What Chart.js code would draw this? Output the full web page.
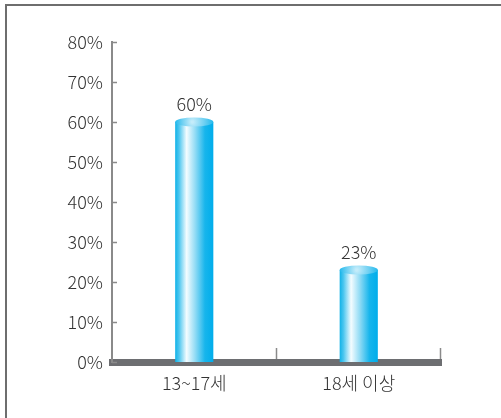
<!DOCTYPE html>
<html lang="ko">
<head>
    <meta charset="UTF-8">
    <title>연령별 비율</title>
    <script src="https://cdn.jsdelivr.net/npm/chart.js"></script>
    <style>
        body {
            margin: 0;
            background: #fff;
        }

        #wrap {
            position: relative;
            width: 501px;
            height: 418px;
        }

        #frame {
            position: absolute;
            left: 5px;
            top: 4px;
            right: 0;
            bottom: 0;
            border-top: 2px solid #6e6e6e;
            border-left: 2px solid #6e6e6e;
        }

        canvas {
            position: absolute;
            left: 0;
            top: 0;
        }
    </style>
</head>
<body>
    <div id="wrap">
        <div id="frame"></div>
        <canvas id="ageChart" width="501" height="418"></canvas>
    </div>

    <script>
        const categories = ['13~17세', '18세 이상'];
        const shares = [60, 23];
        const yMax = 80;
        const yStep = 10;

        const FONT = "'Noto Sans CJK KR', 'Noto Sans', sans-serif";
        const WEIGHT = 300;
        const SIZE = 18;
        const BAR_PCT = 0.232;

        // цилиндр: горизонтальный градиент по ширине столбика
        function barFill(ctx) {
            const chart = ctx.chart;
            const x = chart.scales.x;
            if (!x || !chart.chartArea) return '#1ab5ea';
            const cx = x.getPixelForValue(ctx.dataIndex);
            const half = (x.width / categories.length) * BAR_PCT / 2;
            const g = chart.ctx.createLinearGradient(cx - half, 0, cx + half, 0);
            g.addColorStop(0, '#10b2e8');
            g.addColorStop(0.1, '#4cc6ef');
            g.addColorStop(0.3, '#f4fcff');
            g.addColorStop(0.52, '#94dcf5');
            g.addColorStop(0.78, '#17b5ec');
            g.addColorStop(1, '#00adeb');
            return g;
        }

        // крышка цилиндра, подписи значений и короткие риски осей
        const extras = {
            id: 'extras',
            afterDatasetsDraw(chart) {
                const c = chart.ctx;
                const meta = chart.getDatasetMeta(0);
                meta.data.forEach((bar, i) => {
                    const rx = bar.width / 2;
                    const ry = 4.5;
                    c.save();
                    const rg = c.createRadialGradient(bar.x - 2, bar.y, 1, bar.x, bar.y, rx);
                    rg.addColorStop(0, '#c4ecfa');
                    rg.addColorStop(0.55, '#6fd0f2');
                    rg.addColorStop(1, '#22b9ed');
                    c.fillStyle = rg;
                    c.beginPath();
                    c.ellipse(bar.x, bar.y, rx, ry, 0, 0, Math.PI * 2);
                    c.fill();

                    c.fillStyle = '#333';
                    c.font = WEIGHT + ' ' + SIZE + 'px ' + FONT;
                    c.textAlign = 'center';
                    c.textBaseline = 'alphabetic';
                    c.fillText(shares[i] + '%', bar.x, bar.y - 11);
                    c.restore();
                });

                const y = chart.scales.y;
                const x = chart.scales.x;
                c.save();
                c.strokeStyle = '#8a8a8a';
                c.lineWidth = 1.5;
                y.ticks.forEach(t => {
                    const py = Math.round(y.getPixelForValue(t.value)) + 0.5;
                    c.beginPath();
                    c.moveTo(x.left, py);
                    c.lineTo(x.left + 5, py);
                    c.stroke();
                });
                const step = x.width / categories.length;
                for (let i = 1; i <= categories.length; i++) {
                    const px = Math.round(x.left + step * i) - 0.5;
                    c.beginPath();
                    c.moveTo(px, x.top - 3);
                    c.lineTo(px, x.top - 14);
                    c.stroke();
                }
                c.restore();
            }
        };

        new Chart(document.getElementById('ageChart'), {
            type: 'bar',
            data: {
                labels: categories,
                datasets: [{
                    data: shares,
                    backgroundColor: barFill,
                    borderWidth: 0,
                    categoryPercentage: 1,
                    barPercentage: BAR_PCT
                }]
            },
            options: {
                responsive: false,
                animation: false,
                layout: {
                    padding: { left: 0, top: 42, right: 60, bottom: 0 }
                },
                plugins: {
                    legend: { display: false },
                    tooltip: { enabled: false }
                },
                scales: {
                    x: {
                        afterFit: s => { s.height = 56; },
                        grid: { display: false, drawTicks: false },
                        border: { display: true, color: '#6d6e71', width: 7 },
                        ticks: {
                            color: '#333',
                            padding: 10,
                            font: { family: FONT, size: SIZE, weight: WEIGHT }
                        }
                    },
                    y: {
                        min: 0,
                        max: yMax,
                        afterFit: s => { s.width = 112; },
                        grid: { display: false, drawTicks: false },
                        border: { display: true, color: '#8a8a8a', width: 2 },
                        ticks: {
                            stepSize: yStep,
                            color: '#333',
                            padding: 9,
                            font: { family: FONT, size: SIZE, weight: WEIGHT },
                            callback: v => v + '%'
                        }
                    }
                }
            },
            plugins: [extras]
        });
    </script>
</body>
</html>
